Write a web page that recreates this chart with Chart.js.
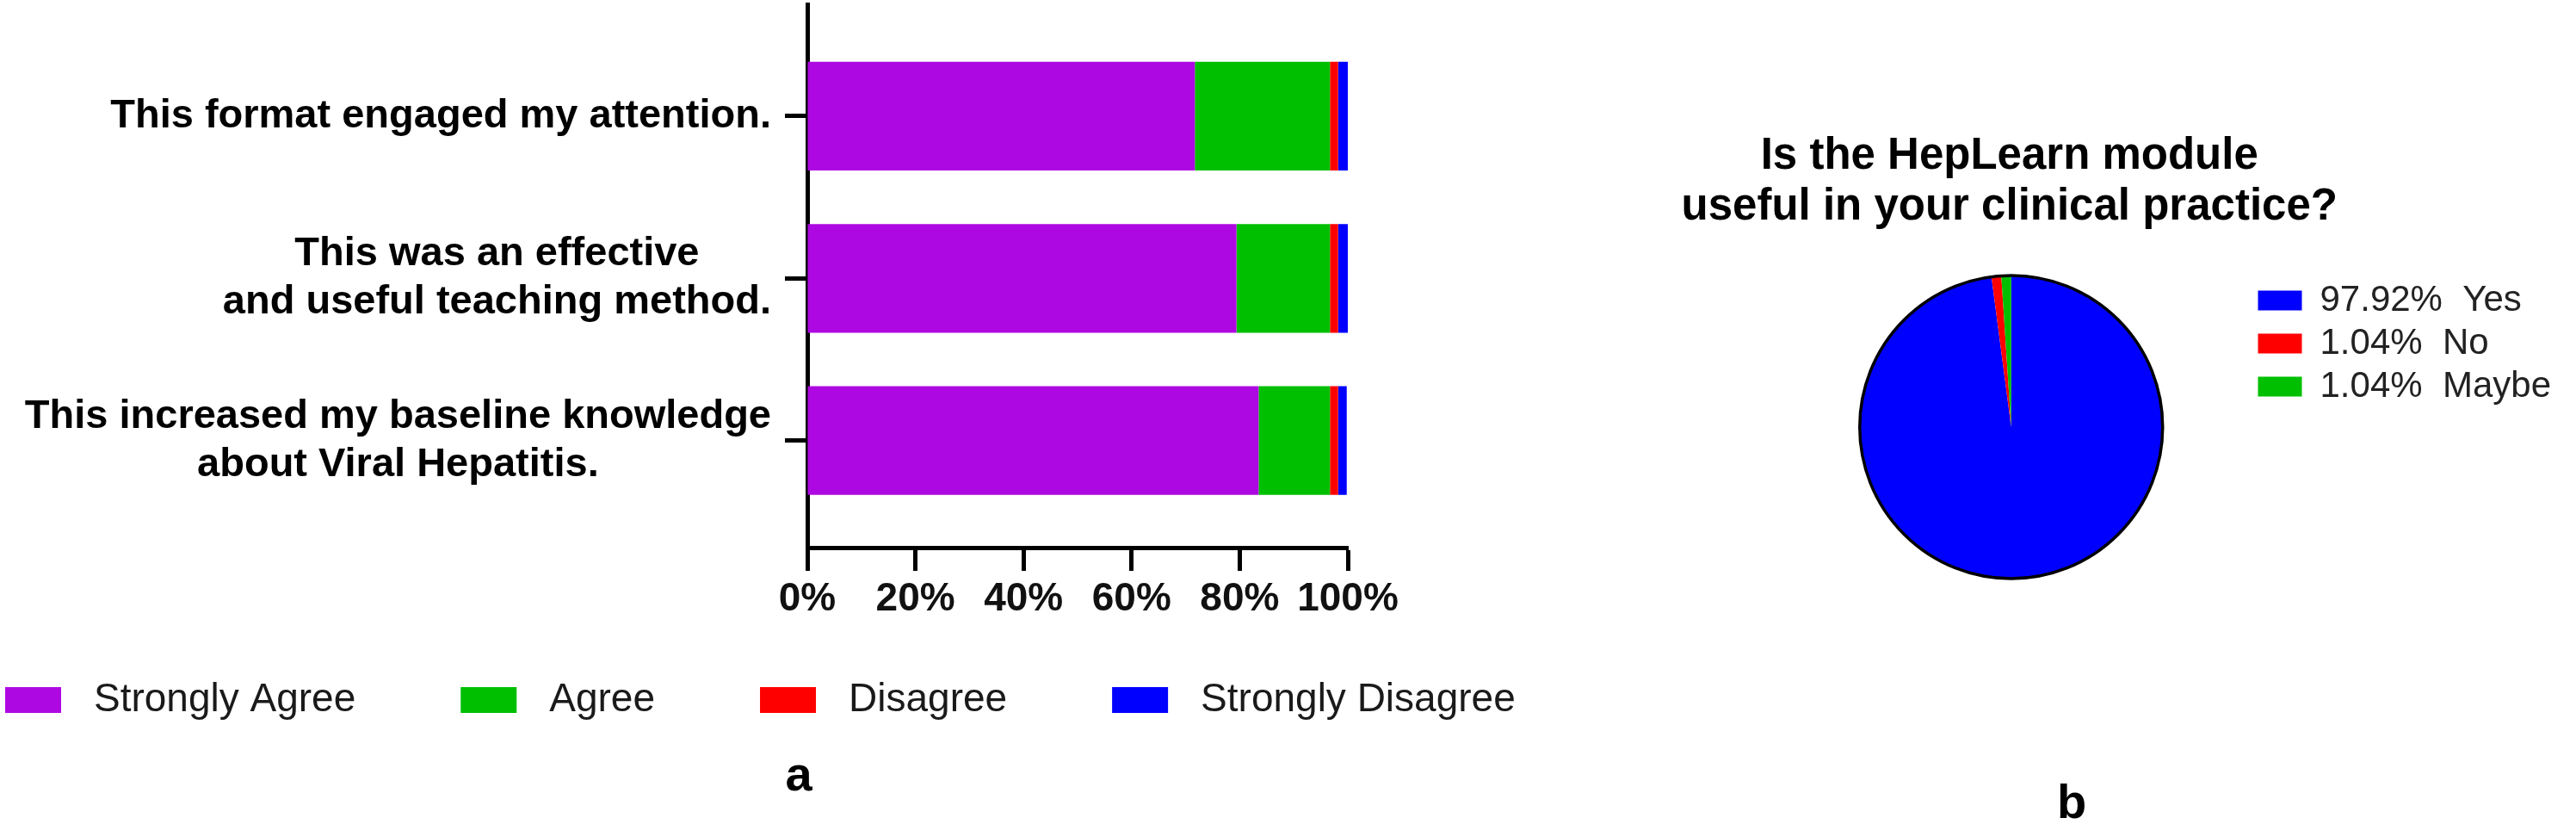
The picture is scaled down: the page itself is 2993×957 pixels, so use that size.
<!DOCTYPE html>
<html>
<head>
<meta charset="utf-8">
<script src="https://cdn.jsdelivr.net/npm/chart.js@4.4.1/dist/chart.umd.min.js"></script>
<style>
  body { margin: 0; background: #fff; width: 2993px; height: 957px; position: relative; overflow: hidden; font-family: "Liberation Sans", Arial, sans-serif; }
  #barBox { position: absolute; left: 0; top: 0; width: 1766px; height: 957px; }
  #pieBox { position: absolute; left: 1900px; top: 0; width: 1093px; height: 700px; }
  .panel { position: absolute; width: 100px; text-align: center; font-weight: bold; font-size: 56px; line-height: 56px; color: #000; }
</style>
</head>
<body>
<div id="barBox"><canvas id="bar"></canvas></div>
<div id="pieBox"><canvas id="pie"></canvas></div>
<div class="panel" style="left:878px; top:871px;">a</div>
<div class="panel" style="left:2357px; top:903px;">b</div>
<script>
// survey statements (one array of lines per bar)
const questions = [
  ["This format engaged my attention."],
  ["This was an effective", "and useful teaching method."],
  ["This increased my baseline knowledge", "about Viral Hepatitis."]
];
const responseLabels = ["Strongly Agree", "Agree", "Disagree", "Strongly Disagree"];
const stronglyAgree = [71.7, 79.4, 83.5];
const agree = [25.0, 17.3, 13.2];
const disagree = [1.5, 1.5, 1.5];
const stronglyDisagree = [1.8, 1.8, 1.6];
const responseColors = ["#AE08E2", "#00BF00", "#FF0000", "#0000FF"];

const pieTitle = ["Is the HepLearn module", "useful in your clinical practice?"];
const pieLabels = ["Yes", "No", "Maybe"];
const pieValues = [97.92, 1.04, 1.04];
const pieColors = ["#0000FF", "#FF0000", "#00BF00"];

Chart.defaults.font.family = '"Liberation Sans", Arial, sans-serif';
Chart.defaults.color = "#000";

const toPoints = (arr) => arr.map((v, i) => ({ x: v, y: i }));

// y labels: each block right aligned to the axis, lines centred in the block
const questionLabels = {
  id: "questionLabels",
  afterDraw(chart) {
    const s = chart.scales.y;
    const ctx = chart.ctx;
    const lineGap = 56;
    ctx.save();
    ctx.font = 'bold 47px "Liberation Sans", Arial, sans-serif';
    ctx.fillStyle = "#000";
    ctx.textAlign = "center";
    ctx.textBaseline = "middle";
    const right = s.right - 26 - 16;
    questions.forEach((lines, i) => {
      const w = Math.max(...lines.map(l => ctx.measureText(l).width));
      const cx = right - w / 2;
      const y0 = s.getPixelForValue(i) - (lines.length - 1) * lineGap / 2;
      lines.forEach((l, j) => ctx.fillText(l, cx, y0 + j * lineGap));
    });
    ctx.restore();
  }
};

// legend row under the bar chart
const barLegend = {
  id: "barLegend",
  afterDraw(chart) {
    const ctx = chart.ctx;
    const y = 813;
    let x = 6;
    ctx.save();
    ctx.font = '46px "Liberation Sans", Arial, sans-serif';
    ctx.textBaseline = "middle";
    chart.data.datasets.forEach(ds => {
      ctx.fillStyle = ds.backgroundColor;
      ctx.fillRect(x, y - 15, 65, 30);
      ctx.fillStyle = "#1a1a1a";
      ctx.fillText(ds.label, x + 103, y);
      x += 103 + ctx.measureText(ds.label).width + 122;
    });
    ctx.restore();
  }
};

const barData = [stronglyAgree, agree, disagree, stronglyDisagree];

new Chart(document.getElementById("bar"), {
  type: "bar",
  data: {
    datasets: barData.map((arr, k) => ({
      label: responseLabels[k],
      data: toPoints(arr),
      backgroundColor: responseColors[k],
      borderWidth: 0,
      barPercentage: 0.67,
      categoryPercentage: 1
    }))
  },
  options: {
    indexAxis: "y",
    responsive: true,
    maintainAspectRatio: false,
    animation: false,
    layout: { padding: { top: 5, right: 200, bottom: 221, left: 0 } },
    scales: {
      x: {
        type: "linear",
        stacked: true,
        min: 0,
        max: 100,
        ticks: {
          stepSize: 20,
          callback: (v) => v + "%",
          font: { size: 46, weight: "bold" },
          color: "#111",
          padding: 6,
          maxRotation: 0,
          autoSkip: false
        },
        grid: { drawOnChartArea: false, drawTicks: true, tickLength: 27, tickWidth: 5, color: "#000" },
        border: { display: true, color: "#000", width: 5 },
        afterFit: (s) => { s.height = 100; }
      },
      y: {
        type: "linear",
        stacked: true,
        reverse: true,
        offset: false,
        min: -0.69,
        max: 2.66,
        z: 1,
        afterBuildTicks: (s) => { s.ticks = questions.map((q, i) => ({ value: i })); },
        ticks: { display: false },
        grid: { offset: false, drawOnChartArea: false, drawTicks: true, tickLength: 26, tickWidth: 5, color: "#000" },
        border: { display: true, color: "#000", width: 5 },
        afterFit: (s) => { s.width = 938; }
      }
    },
    plugins: {
      legend: { display: false },
      title: { display: false },
      tooltip: { enabled: false }
    }
  },
  plugins: [questionLabels, barLegend]
});

// black rim round the pie, without borders between slices
const pieOutline = {
  id: "pieOutline",
  afterDatasetsDraw(chart) {
    const arc = chart.getDatasetMeta(0).data[0];
    const ctx = chart.ctx;
    ctx.save();
    ctx.beginPath();
    ctx.arc(arc.x, arc.y, arc.outerRadius, 0, Math.PI * 2);
    ctx.lineWidth = 3.5;
    ctx.strokeStyle = "#000";
    ctx.stroke();
    ctx.restore();
  }
};

// question centred above the pie (the legend sits to its right)
const pieHeading = {
  id: "pieHeading",
  afterDraw(chart) {
    const arc = chart.getDatasetMeta(0).data[0];
    const ctx = chart.ctx;
    ctx.save();
    ctx.font = 'bold 51px "Liberation Sans", Arial, sans-serif';
    ctx.fillStyle = "#000";
    ctx.textAlign = "center";
    ctx.textBaseline = "alphabetic";
    pieTitle.forEach((line, j) => ctx.fillText(line, arc.x - 2, 196 + j * 59));
    ctx.restore();
  }
};

const baseLabels = (Chart.overrides.pie || Chart.overrides.doughnut).plugins.legend.labels.generateLabels;

new Chart(document.getElementById("pie"), {
  type: "pie",
  data: {
    labels: pieLabels,
    datasets: [{ data: pieValues, backgroundColor: pieColors, borderWidth: 0 }]
  },
  options: {
    responsive: true,
    maintainAspectRatio: false,
    animation: false,
    layout: { padding: { left: 158, right: 19, top: 320, bottom: 28 } },
    plugins: {
      title: { display: false },
      legend: {
        position: "right",
        align: "start",
        fullSize: false,
        labels: {
          boxWidth: 51,
          boxHeight: 23,
          padding: 8,
          font: { size: 42 },
          color: "#222",
          generateLabels(chart) {
            const items = baseLabels(chart);
            items.forEach((it, i) => { it.text = pieValues[i].toFixed(2) + "%  " + pieLabels[i]; });
            return items;
          }
        }
      },
      tooltip: { enabled: false }
    }
  },
  plugins: [pieOutline, pieHeading]
});
</script>
</body>
</html>
